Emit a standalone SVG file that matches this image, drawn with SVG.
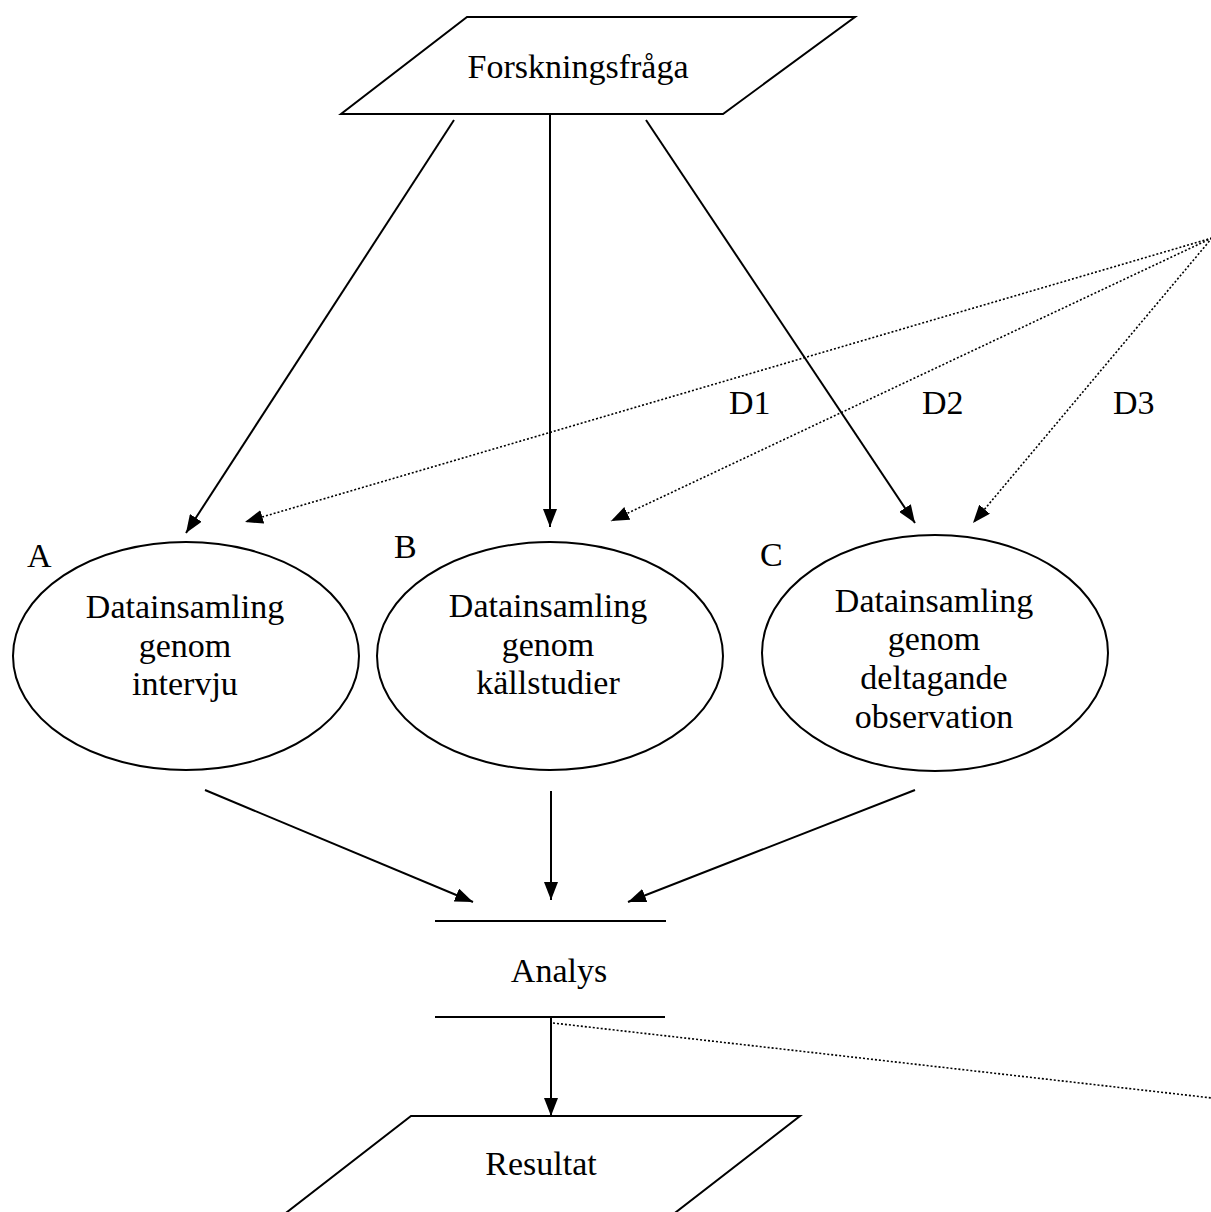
<svg xmlns="http://www.w3.org/2000/svg" width="1211" height="1212" viewBox="0 0 1211 1212">
<style>
text{font-family:"Liberation Serif","Times New Roman",serif;font-size:34px;fill:#000}
.c{text-anchor:middle}
.shape{fill:#fff;stroke:#000;stroke-width:2}
.solid{stroke:#000;stroke-width:2;fill:none}
.dot{stroke:#000;stroke-width:1.6;stroke-dasharray:2 2;fill:none}
</style>
<defs>
<marker id="ah" viewBox="0 0 18 14" refX="18" refY="7" markerWidth="18" markerHeight="14" markerUnits="userSpaceOnUse" orient="auto">
<path d="M0,0 L18,7 L0,14 Z" fill="#000"/>
</marker>
</defs>
<rect width="1211" height="1212" fill="#fff"/>
<g id="connectors">
<line class="solid" x1="454" y1="120" x2="186" y2="533" marker-end="url(#ah)"/>
<line class="solid" x1="550" y1="114" x2="550" y2="527" marker-end="url(#ah)"/>
<line class="solid" x1="646" y1="120" x2="915" y2="523" marker-end="url(#ah)"/>
<line class="dot" x1="1212" y1="238" x2="245" y2="522" marker-end="url(#ah)"/>
<line class="dot" x1="1212" y1="238" x2="611" y2="521" marker-end="url(#ah)"/>
<line class="dot" x1="1212" y1="238" x2="973" y2="523" marker-end="url(#ah)"/>
<line class="solid" x1="205" y1="790" x2="473" y2="902" marker-end="url(#ah)"/>
<line class="solid" x1="551" y1="791" x2="551" y2="900" marker-end="url(#ah)"/>
<line class="solid" x1="915" y1="790" x2="628" y2="902" marker-end="url(#ah)"/>
<line class="solid" x1="551" y1="1017" x2="551" y2="1116" marker-end="url(#ah)"/>
<line class="dot" x1="553" y1="1023" x2="1212" y2="1098"/>
</g>
<g id="forskningsfraga">
<polygon class="shape" points="467,17 855,17 723,114 341,114"/>
<text class="c" x="578" y="78">Forskningsfråga</text>
</g>
<g id="labels-d">
<text x="729" y="414">D1</text>
<text x="922" y="414">D2</text>
<text x="1113" y="414">D3</text>
</g>
<g id="node-a">
<ellipse class="shape" cx="186" cy="656" rx="173" ry="114"/>
<text x="27" y="567">A</text>
<text class="c" x="185" y="618">Datainsamling</text>
<text class="c" x="185" y="657">genom</text>
<text class="c" x="185" y="695">intervju</text>
</g>
<g id="node-b">
<ellipse class="shape" cx="550" cy="656" rx="173" ry="114"/>
<text x="394" y="558">B</text>
<text class="c" x="548" y="617">Datainsamling</text>
<text class="c" x="548" y="656">genom</text>
<text class="c" x="548" y="694">källstudier</text>
</g>
<g id="node-c">
<ellipse class="shape" cx="935" cy="653" rx="173" ry="118"/>
<text x="760" y="566">C</text>
<text class="c" x="934" y="612">Datainsamling</text>
<text class="c" x="934" y="650">genom</text>
<text class="c" x="934" y="689">deltagande</text>
<text class="c" x="934" y="728">observation</text>
</g>
<g id="analys">
<line class="solid" x1="435" y1="921" x2="666" y2="921"/>
<line class="solid" x1="435" y1="1017" x2="665" y2="1017"/>
<text class="c" x="559" y="982">Analys</text>
</g>
<g id="resultat">
<polygon class="shape" points="411,1116 800,1116 640,1240 251,1240"/>
<text class="c" x="541" y="1175">Resultat</text>
</g>
</svg>
